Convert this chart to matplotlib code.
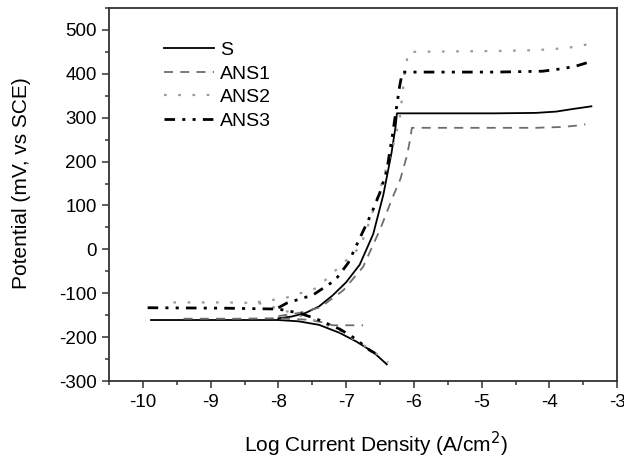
import numpy as np
import matplotlib.pyplot as plt
from matplotlib.ticker import MultipleLocator

plt.rcParams['font.family'] = ['Liberation Sans', 'DejaVu Sans']
plt.rcParams['axes.unicode_minus'] = False

nan = np.nan

# S: Ecorr spike -> cathodic branch, break, anodic branch + passive plateau
s_logi = [-9.88, -8.4, -8.0, -7.7, -7.4, -7.1, -6.85, -6.6, -6.4, nan,
          -8.0, -7.8, -7.6, -7.4, -7.2, -7.0, -6.8, -6.6, -6.45, -6.33, -6.27, -6.25,
          -6.2, -5.5, -4.8, -4.2, -3.9, -3.65, -3.38]
s_pot = [-161, -161, -161, -164, -172, -190, -210, -234, -262, nan,
         -157, -153, -145, -130, -105, -75, -35, 35, 125, 220, 280, 310,
         310, 310, 310, 311, 314, 320, 326]

# ANS1
ans1_logi = [-9.4, -8.6, -8.0, -7.6, -7.35, -7.2, -6.95, -6.75, nan,
             -8.0, -7.7, -7.38, -7.04, -6.75, -6.5, -6.31, -6.2, -6.1, -6.05, -6.03,
             -5.5, -4.8, -4.2, -3.8, -3.6, -3.47]
ans1_pot = [-158, -158, -157, -160, -166, -173, -173, -173, nan,
            -152, -145, -132, -93, -40, 45, 120, 160, 215, 255, 277,
            277, 277, 277, 279, 282, 285]

# ANS2
ans2_logi = [-9.55, -8.8, -8.3, -8.0, -7.7, -7.4, -7.1, -6.85, -6.6, -6.38, nan,
             -8.3, -7.9, -7.43, -7.04, -6.79, -6.62, -6.47, -6.3, -6.21, -6.13, -6.08,
             -5.5, -4.8, -4.2, -3.9, -3.65, -3.41]
ans2_pot = [-121, -121, -122, -135, -150, -165, -186, -208, -232, -258, nan,
            -120, -111, -88, -31, 6, 79, 152, 240, 296, 410, 450,
            451, 452, 454, 457, 461, 468]

# ANS3
ans3_logi = [-9.93, -8.8, -8.0, -7.7, -7.46, -7.09, -6.87, -6.65, -6.57, nan,
             -8.0, -7.87, -7.49, -7.16, -6.97, -6.76, -6.62, -6.5, -6.4, -6.31, -6.21, -6.17,
             -5.5, -4.8, -4.1, -3.8, -3.6, -3.41]
ans3_pot = [-133, -134, -136, -145, -157, -182, -203, -230, -237, nan,
            -133, -122, -104, -70, -31, 38, 84, 130, 180, 267, 372, 404,
            404, 404, 406, 412, 418, 427]

fig = plt.figure(figsize=(6.24, 4.61), dpi=100)
ax = fig.add_axes([0.1747, 0.1735, 0.8143, 0.8091])

ax.plot(s_logi, s_pot, color='black', lw=1.3, label='S')
ax.plot(ans1_logi, ans1_pot, color='#6e6e6e', lw=1.3, linestyle=(0, (5, 4)), label='ANS1')
ax.plot(ans2_logi, ans2_pot, color='#9a9a9a', lw=1.6, linestyle=(0, (1.2, 5.2)), label='ANS2')
ax.plot(ans3_logi, ans3_pot, color='black', lw=2.0, linestyle=(0, (3.8, 2.6, 1.1, 2.6, 1.1, 2.6)), label='ANS3')

ax.set_xlim(-10.5, -3)
ax.set_ylim(-300, 550)
ax.xaxis.set_minor_locator(MultipleLocator(0.5))
ax.yaxis.set_minor_locator(MultipleLocator(50))
ax.set_xticks(np.arange(-10, -2.5, 1))
ax.set_yticks(np.arange(-300, 501, 100))
ax.tick_params(which='major', direction='out', length=5, width=1.1, labelsize=13.5,
               color='#333333', pad=4)
ax.tick_params(which='minor', direction='out', length=3, width=1.1, color='#333333')
for sp in ax.spines.values():
    sp.set_linewidth(1.3)
    sp.set_color('#333333')

ax.set_xlabel('Log Current Density (A/cm$^2$)', fontsize=15)
ax.set_ylabel('Potential (mV, vs SCE)', fontsize=15)
ax.xaxis.set_label_coords(0.526, -0.132)
ax.yaxis.set_label_coords(-0.154, 0.531)

ax.legend(loc='upper left', bbox_to_anchor=(0.108, 0.91), frameon=False, fontsize=14,
          handlelength=2.6, handletextpad=0.3, labelspacing=0.3, borderaxespad=0, borderpad=0)

fig.savefig('out.png', dpi=100)
